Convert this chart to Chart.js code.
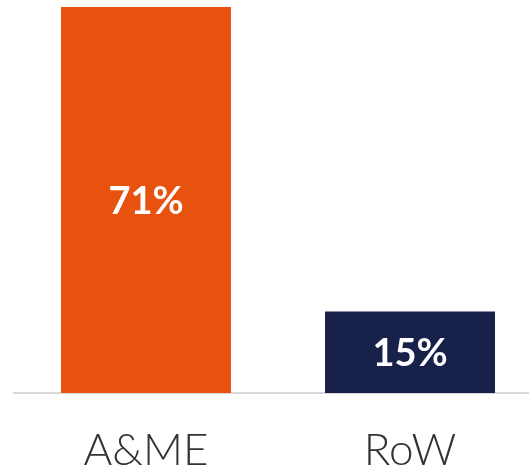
<!DOCTYPE html>
<html>
<head>
<meta charset="utf-8">
<script src="https://cdn.jsdelivr.net/npm/chart.js@4"></script>
<style>
  html, body { margin: 0; padding: 0; background: #fff; overflow: hidden; }
  #wrap { width: 529px; height: 468px; overflow: hidden; }
</style>
</head>
<body>
<div id="wrap">
  <canvas id="shareChart" width="545" height="468"></canvas>
</div>
<script>
const regions = ['A&ME', 'RoW'];
const shares = [71, 15];
const barColors = ['#E8520F', '#17214A'];

// Writes the percentage in the middle of each bar
const centerLabels = {
  id: 'centerLabels',
  afterDatasetsDraw(chart) {
    const ctx = chart.ctx;
    const meta = chart.getDatasetMeta(0);
    ctx.save();
    ctx.fillStyle = '#ffffff';
    ctx.font = 'bold 38px Lato, sans-serif';
    ctx.textAlign = 'center';
    ctx.textBaseline = 'middle';
    meta.data.forEach((bar, i) => {
      const value = chart.data.datasets[0].data[i];
      ctx.fillText(value + '%', bar.x, (bar.y + bar.base) / 2 + 2);
    });
    ctx.restore();
  }
};

new Chart(document.getElementById('shareChart'), {
  type: 'bar',
  data: {
    labels: regions,
    datasets: [{
      data: shares,
      backgroundColor: barColors,
      borderWidth: 0,
      barPercentage: 1,
      categoryPercentage: 0.644
    }]
  },
  options: {
    responsive: false,
    animation: false,
    devicePixelRatio: 1,
    layout: { padding: { top: 7, left: 14, right: 3, bottom: 0 } },
    plugins: {
      legend: { display: false },
      tooltip: { enabled: false }
    },
    scales: {
      y: {
        display: false,
        min: 0,
        max: 71
      },
      x: {
        afterFit(axis) { axis.height = 75; },
        grid: { display: false, drawTicks: false },
        border: { display: true, color: '#d9d9d9', width: 2 },
        ticks: {
          color: '#333333',
          padding: 36,
          font: { family: 'Lato, sans-serif', size: 44, weight: 300, lineHeight: 1 }
        }
      }
    }
  },
  plugins: [centerLabels]
});
</script>
</body>
</html>
